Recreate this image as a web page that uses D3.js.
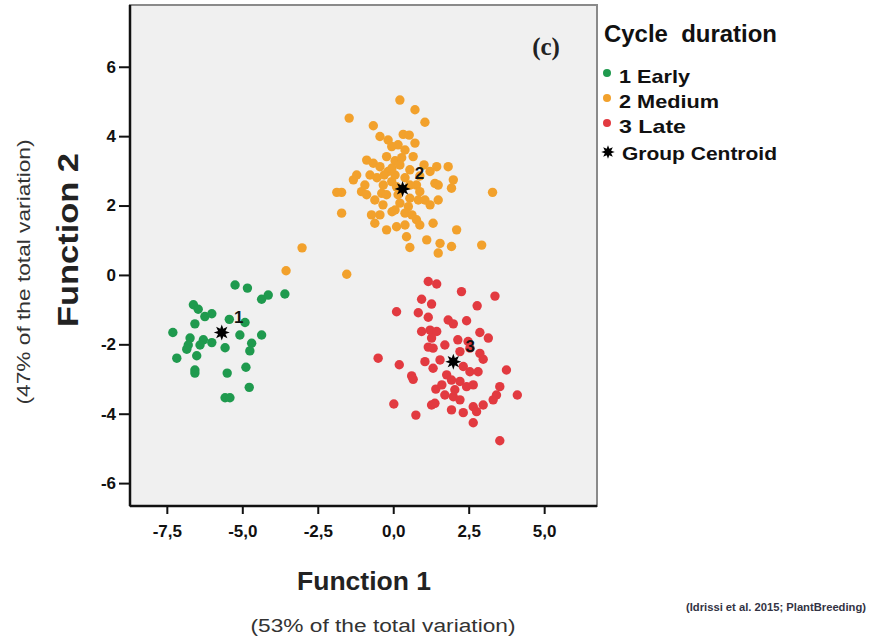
<!DOCTYPE html>
<html>
<head>
<meta charset="utf-8">
<script src="https://cdn.jsdelivr.net/npm/d3@7"></script>
<style>
  body { margin: 0; background: #fff; }
  text { font-family: "Liberation Sans", Arial, sans-serif; }
</style>
</head>
<body>
<svg id="chart" width="879" height="638"></svg>
<script>
// discriminant scores: [function 1, function 2]
const early = [
  [-5.24, -0.29], [-4.83, -0.38], [-4.36, -0.70], [-4.14, -0.58], [-3.59, -0.55],
  [-6.62, -0.86], [-6.46, -0.99], [-6.24, -1.20], [-6.01, -1.12], [-5.43, -1.28],
  [-4.91, -1.37], [-6.57, -1.41], [-7.30, -1.66], [-5.08, -1.73], [-4.36, -1.73],
  [-6.73, -1.82], [-6.79, -2.02], [-6.84, -2.14], [-6.29, -1.87], [-6.40, -2.02],
  [-6.01, -1.95], [-5.57, -2.10], [-4.69, -1.97], [-4.75, -2.19], [-6.51, -2.33],
  [-7.17, -2.40], [-6.57, -2.74], [-6.57, -2.83], [-5.50, -2.83], [-4.88, -2.66],
  [-4.77, -3.24], [-5.57, -3.54], [-5.41, -3.54]
];
const medium = [
  [0.22, 5.04], [0.72, 4.76], [1.05, 4.40], [-1.46, 4.52], [-0.66, 4.30],
  [-0.44, 3.99], [-0.17, 3.89], [0.33, 4.05], [0.53, 4.03], [-0.05, 3.70],
  [0.39, 3.60], [0.66, 3.41], [-0.88, 3.31], [-0.66, 3.22], [-0.22, 3.41],
  [0.06, 3.29], [0.28, 3.38], [1.44, 3.12], [1.82, 3.12], [1.22, 2.98],
  [-0.44, 3.12], [-0.17, 2.98], [-1.21, 2.88], [-1.32, 2.74], [1.99, 2.74],
  [1.38, 2.64], [-0.05, 2.69], [-0.33, 2.59], [0.11, 2.54], [0.77, 2.59],
  [0.88, 2.40], [1.49, 2.59], [1.93, 2.50], [-1.71, 2.38], [-1.87, 2.38],
  [-1.05, 2.40], [-0.88, 2.31], [-0.38, 2.35], [-0.22, 2.31], [3.29, 2.38],
  [0.55, 2.21], [0.83, 2.16], [1.49, 2.16], [0.22, 2.07], [0.50, 1.97],
  [-1.71, 1.78], [-0.72, 1.73], [0.06, 1.87], [0.39, 1.78], [0.77, 1.59],
  [0.88, 1.44], [1.32, 1.49], [-0.61, 1.49], [-0.22, 1.30], [0.11, 1.39],
  [2.10, 1.30], [0.44, 1.10], [1.11, 1.01], [1.55, 0.91], [1.93, 0.82],
  [0.55, 0.79], [1.49, 0.63], [2.93, 0.86], [-1.54, 0.02], [-3.02, 0.78],
  [-3.55, 0.12], [0.06, 2.88], [0.39, 2.80], [0.55, 3.03], [0.16, 2.31],
  [1.05, 2.16], [-0.54, 2.80], [-0.04, 3.08], [0.88, 2.85], [1.22, 2.02],
  [0.62, 1.73], [0.72, 3.80], [-0.34, 2.02], [-0.94, 2.59],
  [-0.30, 2.88], [0.22, 3.17], [-0.61, 2.16], [-0.04, 1.82], [0.55, 2.59],
  [1.02, 3.17], [0.39, 1.44], [-0.44, 1.73], [0.16, 3.75], [-0.77, 2.88]
];
const late = [
  [1.16, -0.19], [1.44, -0.26], [2.26, -0.48], [3.37, -0.61], [0.94, -0.70],
  [0.83, -1.09], [1.27, -0.84], [0.11, -1.06], [2.78, -0.89], [1.16, -1.22],
  [1.82, -1.30], [1.99, -1.41], [2.43, -1.32], [0.94, -1.63], [1.22, -1.59],
  [1.44, -1.63], [2.87, -1.66], [3.15, -1.82], [1.27, -1.82], [1.16, -2.08],
  [1.32, -2.11], [2.48, -1.92], [2.54, -2.11], [2.21, -2.21], [2.87, -2.26],
  [2.98, -2.43], [-0.50, -2.40], [0.20, -2.59], [1.05, -2.50], [1.32, -2.69],
  [2.32, -2.64], [2.54, -2.79], [2.81, -2.79], [0.61, -2.91], [0.66, -3.01],
  [1.77, -2.88], [1.93, -3.03], [3.75, -2.74], [2.21, -3.07], [2.43, -3.22],
  [2.65, -3.17], [1.41, -3.29], [1.99, -3.51], [2.21, -3.60], [3.53, -3.22],
  [3.42, -3.46], [3.31, -3.60], [4.11, -3.46], [0.02, -3.72], [1.27, -3.75],
  [1.38, -3.70], [1.93, -3.89], [2.32, -3.97], [2.65, -3.80], [2.98, -3.75],
  [2.76, -3.94], [0.75, -4.04], [2.65, -4.26], [3.53, -4.78], [1.71, -2.02],
  [1.55, -2.45], [2.04, -3.31], [1.71, -3.46], [2.14, -1.87], [1.61, -3.17]
];
const centroids = [[-5.68, -1.66], [0.31, 2.48], [1.99, -2.50]];
const groupNames = ['1 Early', '2 Medium', '3 Late'];
const groupColors = ['#1f9a4e', '#f2a12c', '#e23a40'];
const xTicks = [-7.5, -5.0, -2.5, 0.0, 2.5, 5.0];
const yTicks = [-6, -4, -2, 0, 2, 4, 6];

const svg = d3.select('#chart');
const box = {left: 130, top: 5, right: 597, bottom: 506};

const x = d3.scaleLinear().domain([-8.72, 6.75]).range([box.left, box.right]);
const y = d3.scaleLinear().domain([-6.66, 7.78]).range([box.bottom, box.top]);

// plot background + frame
svg.append('rect')
  .attr('x', box.left).attr('y', box.top)
  .attr('width', box.right - box.left).attr('height', box.bottom - box.top)
  .attr('fill', '#f0f0f0')
  .attr('stroke', '#8a8a8a')
  .attr('stroke-width', 2);

// axes
const fmt = d => d3.format('.1f')(d).replace('.', ',').replace('−', '-');
const xAxis = svg.append('g')
  .attr('transform', 'translate(0,' + box.bottom + ')')
  .call(d3.axisBottom(x).tickValues(xTicks).tickSize(8).tickPadding(11).tickFormat(fmt));
const yAxis = svg.append('g')
  .attr('transform', 'translate(' + box.left + ',0)')
  .call(d3.axisLeft(y).tickValues(yTicks).tickSize(11).tickPadding(3).tickFormat(d => String(d)));

[xAxis, yAxis].forEach(a => {
  a.select('.domain').attr('stroke', '#111').attr('stroke-width', 2.5);
  a.selectAll('.tick line').attr('stroke', '#111').attr('stroke-width', 2);
  a.selectAll('.tick text')
    .attr('fill', '#111')
    .style('font-size', '17px')
    .style('font-weight', 'bold');
});
xAxis.select('.domain').attr('d', 'M' + box.left + ',0H' + box.right);
yAxis.select('.domain').attr('d', 'M0,' + box.top + 'V' + box.bottom);

// points
const groups = [early, medium, late];
groups.forEach((pts, gi) => {
  svg.append('g')
    .selectAll('circle')
    .data(pts)
    .enter()
    .append('circle')
    .attr('cx', d => x(d[0]))
    .attr('cy', d => y(d[1]))
    .attr('r', 4.7)
    .attr('fill', groupColors[gi]);
});

// centroid star
const starPts = d3.range(16).map(i => [i * Math.PI / 8, i % 2 ? 4 : 8]);
const starPath = d3.lineRadial().curve(d3.curveLinearClosed)(starPts);

svg.append('g')
  .selectAll('path')
  .data(centroids)
  .enter()
  .append('path')
  .attr('d', starPath)
  .attr('transform', d => 'translate(' + x(d[0]) + ',' + y(d[1]) + ')')
  .attr('fill', '#000');

svg.append('g')
  .selectAll('text')
  .data(centroids)
  .enter()
  .append('text')
  .attr('x', d => x(d[0]) + 17)
  .attr('y', d => y(d[1]) - 10)
  .attr('text-anchor', 'middle')
  .style('font-size', '17px')
  .style('font-weight', 'bold')
  .attr('fill', '#111')
  .text((d, i) => i + 1);

// panel tag
svg.append('text')
  .attr('x', 546).attr('y', 55)
  .attr('text-anchor', 'middle')
  .style('font-family', '"Liberation Serif", serif')
  .style('font-size', '25px')
  .style('font-weight', 'bold')
  .attr('fill', '#222')
  .text('(c)');

// legend
const legend = svg.append('g');
legend.append('text')
  .attr('x', 604).attr('y', 42)
  .attr('textLength', 173)
  .attr('lengthAdjust', 'spacingAndGlyphs')
  .style('font-size', '23px')
  .style('font-weight', 'bold')
  .attr('fill', '#111')
  .attr('xml:space', 'preserve')
  .text('Cycle  duration');

const itemBase = [83, 108, 133, 160];
const itemLen = [71, 100, 67, 155];
groupNames.forEach((name, i) => {
  legend.append('circle')
    .attr('cx', 607).attr('cy', itemBase[i] - 10).attr('r', 4).attr('fill', groupColors[i]);
  legend.append('text')
    .attr('x', 619).attr('y', itemBase[i])
    .attr('textLength', itemLen[i])
    .attr('lengthAdjust', 'spacingAndGlyphs')
    .style('font-size', '19px')
    .style('font-weight', 'bold')
    .attr('fill', '#111')
    .text(name);
});
legend.append('path')
  .attr('d', starPath)
  .attr('transform', 'translate(608,152) scale(0.85)')
  .attr('fill', '#000');
legend.append('text')
  .attr('x', 622).attr('y', itemBase[3])
  .attr('textLength', itemLen[3])
  .attr('lengthAdjust', 'spacingAndGlyphs')
  .style('font-size', '19px')
  .style('font-weight', 'bold')
  .attr('fill', '#111')
  .text('Group Centroid');

// axis titles
svg.append('text')
  .attr('x', 364).attr('y', 590)
  .attr('text-anchor', 'middle')
  .attr('textLength', 134)
  .attr('lengthAdjust', 'spacingAndGlyphs')
  .style('font-size', '26px')
  .style('font-weight', 'bold')
  .attr('fill', '#222')
  .text('Function 1');

svg.append('text')
  .attr('x', 383).attr('y', 632)
  .attr('text-anchor', 'middle')
  .attr('textLength', 265)
  .attr('lengthAdjust', 'spacingAndGlyphs')
  .style('font-size', '18px')
  .attr('fill', '#333')
  .text('(53% of the total variation)');

svg.append('text')
  .attr('transform', 'translate(78,240) rotate(-90)')
  .attr('text-anchor', 'middle')
  .attr('textLength', 174)
  .attr('lengthAdjust', 'spacingAndGlyphs')
  .style('font-size', '29px')
  .style('font-weight', 'bold')
  .attr('fill', '#222')
  .text('Function 2');

svg.append('text')
  .attr('transform', 'translate(30,272) rotate(-90)')
  .attr('text-anchor', 'middle')
  .attr('textLength', 265)
  .attr('lengthAdjust', 'spacingAndGlyphs')
  .style('font-size', '18px')
  .attr('fill', '#333')
  .text('(47% of the total variation)');

// source note
svg.append('text')
  .attr('x', 686).attr('y', 611)
  .attr('textLength', 180)
  .attr('lengthAdjust', 'spacingAndGlyphs')
  .style('font-size', '10px')
  .style('font-weight', 'bold')
  .attr('fill', '#334')
  .text('(Idrissi et al. 2015; PlantBreeding)');
</script>
</body>
</html>
